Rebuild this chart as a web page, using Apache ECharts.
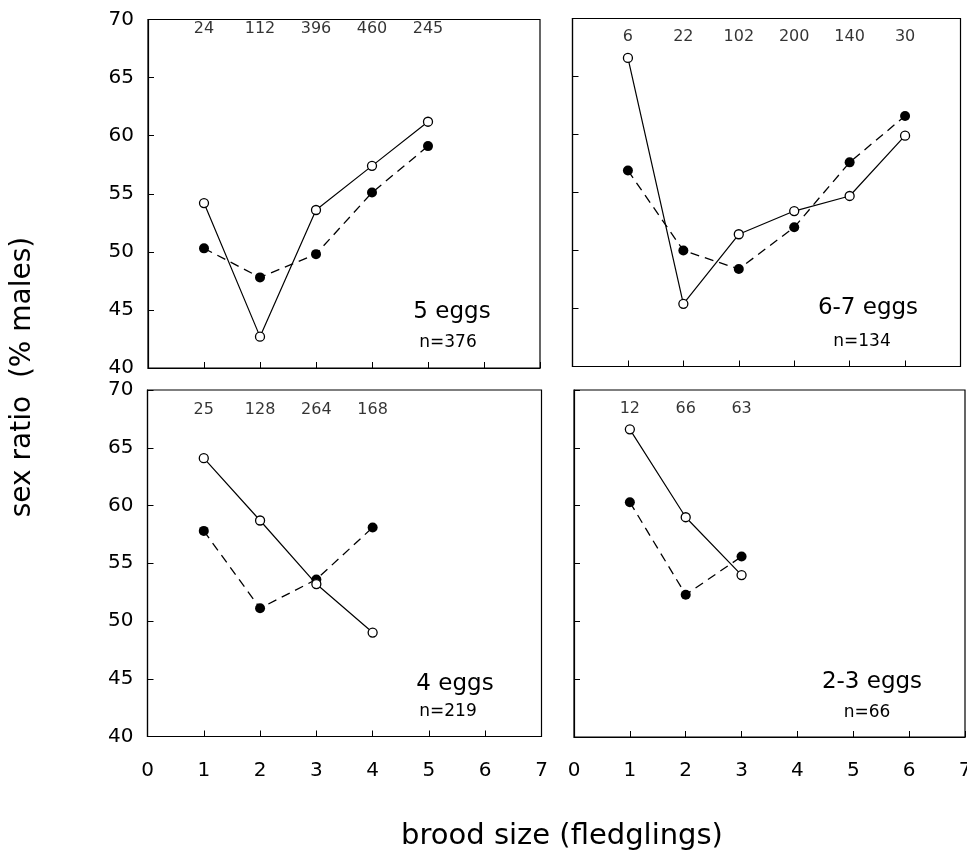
<!DOCTYPE html>
<html><head><meta charset="utf-8">
<script src="https://cdn.jsdelivr.net/npm/echarts@6/dist/echarts.min.js"></script>
<style>html,body{margin:0;padding:0;background:#fff}#c{width:967px;height:862px}</style>
</head><body><div id="c"></div>
<script>
// ---- data ----
const broodSizes5 = [1, 2, 3, 4, 5];
const open5 = [54.2, 42.7, 53.6, 57.4, 61.2];
const filled5 = [50.3, 47.8, 49.8, 55.1, 59.1];
const counts5 = [24, 112, 396, 460, 245];

const broodSizes67 = [1, 2, 3, 4, 5, 6];
const open67 = [66.6, 45.4, 51.4, 53.4, 54.7, 59.9];
const filled67 = [56.9, 50.0, 48.4, 52.0, 57.6, 61.6];
const counts67 = [6, 22, 102, 200, 140, 30];

const broodSizes4 = [1, 2, 3, 4];
const open4 = [64.1, 58.7, 53.2, 49.0];
const filled4 = [57.8, 51.1, 53.6, 58.1];
const counts4 = [25, 128, 264, 168];

const broodSizes23 = [1, 2, 3];
const open23 = [66.6, 59.0, 54.0];
const filled23 = [60.3, 52.3, 55.6];
const counts23 = [12, 66, 63];

const panelLabels = ['5 eggs', '6-7 eggs', '4 eggs', '2-3 eggs'];
const panelN = ['n=376', 'n=134', 'n=219', 'n=66'];
const xAxisTitle = 'brood size (fledglings)';
const yAxisTitle = 'sex ratio  (% males)';

// ---- layout ----
const FONT = 'DejaVu Sans';
const panels = [
  { x: broodSizes5, o: open5, f: filled5, c: counts5, grid: { left: 148, top: 19.5, width: 392, height: 348.5 }, yLab: true, xLab: false, level: 69.2, lab: [452, 312], nPos: [448, 343] },
  { x: broodSizes67, o: open67, f: filled67, c: counts67, grid: { left: 572.5, top: 18.5, width: 388, height: 348 }, yLab: false, xLab: false, level: 68.4, lab: [868, 308], nPos: [862, 342] },
  { x: broodSizes4, o: open4, f: filled4, c: counts4, grid: { left: 147.5, top: 390, width: 394, height: 346.5 }, yLab: true, xLab: true, level: 68.3, lab: [455, 684], nPos: [448, 712] },
  { x: broodSizes23, o: open23, f: filled23, c: counts23, grid: { left: 574, top: 390, width: 391, height: 347 }, yLab: false, xLab: true, level: 68.4, lab: [872, 682], nPos: [867, 713] }
];

const grids = [], xAxes = [], yAxes = [], series = [], graphics = [];
panels.forEach((p, i) => {
  grids.push(Object.assign({ show: true, borderColor: '#000', borderWidth: 1.2, backgroundColor: 'transparent', containLabel: false, outerBoundsMode: 'none' }, p.grid));
  xAxes.push({
    type: 'value', gridIndex: i, min: 0, max: 7, interval: 1,
    axisLine: { show: true, lineStyle: { color: '#000', width: 1.2 } },
    axisTick: { show: true, inside: true, length: 6, lineStyle: { color: '#000' } },
    splitLine: { show: false },
    axisLabel: { show: p.xLab, color: '#000', fontSize: 20, fontFamily: FONT, margin: 24, showMinLabel: true, showMaxLabel: true, hideOverlap: false }
  });
  yAxes.push({
    type: 'value', gridIndex: i, min: 40, max: 70, interval: 5,
    axisLine: { show: true, lineStyle: { color: '#000', width: 1.2 } },
    axisTick: { show: true, inside: true, length: 6, lineStyle: { color: '#000' } },
    splitLine: { show: false },
    axisLabel: { show: p.yLab, color: '#000', fontSize: 20, fontFamily: FONT, margin: 14 }
  });
  series.push({
    type: 'line', xAxisIndex: i, yAxisIndex: i, z: 2,
    data: p.x.map((x, k) => [x, p.f[k]]),
    symbol: 'circle', symbolSize: 10,
    itemStyle: { color: '#000' },
    lineStyle: { color: '#000', width: 1.3, type: [9, 6] },
    animation: false
  });
  series.push({
    type: 'line', xAxisIndex: i, yAxisIndex: i, z: 3,
    data: p.x.map((x, k) => [x, p.o[k]]),
    symbol: 'circle', symbolSize: 9,
    itemStyle: { color: '#fff', borderColor: '#000', borderWidth: 1.3 },
    lineStyle: { color: '#000', width: 1.2 },
    animation: false
  });
  series.push({
    type: 'scatter', xAxisIndex: i, yAxisIndex: i, symbolSize: 0,
    itemStyle: { color: '#000' },
    data: p.x.map((x, k) => [x, p.level, p.c[k]]),
    label: { show: true, position: 'inside', formatter: q => String(q.value[2]), color: '#000', textBorderWidth: 0, fontSize: 16, fontFamily: FONT },
    animation: false
  });
  graphics.push({ type: 'text', x: p.lab[0], y: p.lab[1], style: { text: panelLabels[i], fill: '#000', font: '23px "' + FONT + '"', textAlign: 'center', textVerticalAlign: 'middle' } });
  graphics.push({ type: 'text', x: p.nPos[0], y: p.nPos[1], style: { text: panelN[i], fill: '#000', font: '17px "' + FONT + '"', textAlign: 'center', textVerticalAlign: 'middle' } });
});
graphics.push({ type: 'text', x: 23, y: 377, rotation: Math.PI / 2, style: { text: yAxisTitle, fill: '#000', font: '28px "' + FONT + '"', textAlign: 'center', textVerticalAlign: 'middle' } });
graphics.push({ type: 'text', x: 562, y: 836, style: { text: xAxisTitle, fill: '#000', font: '29px "' + FONT + '"', textAlign: 'center', textVerticalAlign: 'middle' } });

const chart = echarts.init(document.getElementById('c'), null, { renderer: 'canvas' });
chart.setOption({
  backgroundColor: '#fff',
  animation: false,
  grid: grids, xAxis: xAxes, yAxis: yAxes, series: series, graphic: graphics
});
</script>
</body></html>
